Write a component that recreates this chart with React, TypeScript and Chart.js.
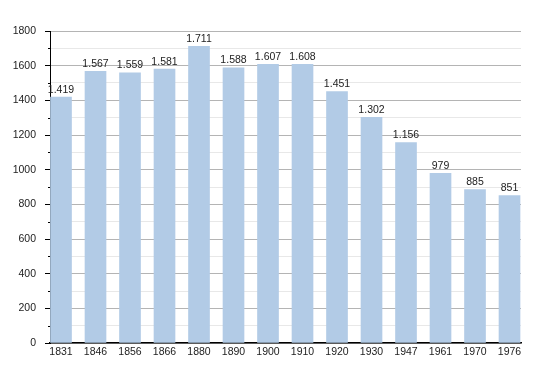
import React, { useEffect, useRef } from "react";
import { Chart, registerables } from "chart.js";

Chart.register(...registerables);

const years = ["1831", "1846", "1856", "1866", "1880", "1890", "1900", "1910", "1920", "1930", "1947", "1961", "1970", "1976"];
const population = [1419, 1567, 1559, 1581, 1711, 1588, 1607, 1608, 1451, 1302, 1156, 979, 885, 851];
const yTickStep = 100;
const yMax = 1800;

const FONT = "'Liberation Sans', Arial, sans-serif";

function fmt(v: number): string {
  if (v >= 1000) {
    return Math.floor(v / 1000) + "." + String(v % 1000).padStart(3, "0");
  }
  return String(v);
}

const labelPlugin = {
  id: "valueLabels",
  afterDatasetsDraw(chart: any) {
    const ctx = chart.ctx;
    const meta = chart.getDatasetMeta(0);
    ctx.save();
    ctx.font = "10.5px " + FONT;
    ctx.fillStyle = "#222";
    ctx.textAlign = "center";
    ctx.textBaseline = "bottom";
    meta.data.forEach((bar: any, i: number) => {
      ctx.fillText(fmt(population[i]), bar.x, bar.y - 2);
    });
    ctx.restore();
  },
};

const minorTickPlugin = {
  id: "minorTicks",
  afterDraw(chart: any) {
    const ctx = chart.ctx;
    const y = chart.scales.y;
    const left = chart.chartArea.left;
    ctx.save();
    ctx.strokeStyle = "#000";
    ctx.lineWidth = 1;
    for (let v = yTickStep; v < yMax; v += 2 * yTickStep) {
      const py = Math.round(y.getPixelForValue(v)) + 0.5;
      ctx.beginPath();
      ctx.moveTo(left - 2, py);
      ctx.lineTo(left, py);
      ctx.stroke();
    }
    ctx.restore();
  },
};

export default function App() {
  const ref = useRef<HTMLCanvasElement | null>(null);
  useEffect(() => {
    if (!ref.current) return;
    const chart = new Chart(ref.current, {
      type: "bar",
      data: {
        datasets: [
          {
            data: population.map((v, i) => ({ x: i, y: v })),
            backgroundColor: "#b2cbe6",
            borderWidth: 0,
            barThickness: 21,
          },
        ],
      },
      options: {
        animation: false,
        responsive: false,
        maintainAspectRatio: false,
        layout: { padding: { top: 31, right: 29, left: 0, bottom: 0 } },
        plugins: { legend: { display: false }, tooltip: { enabled: false } },
        scales: {
          x: {
            type: "linear",
            offset: false,
            min: -0.319,
            max: 13.333,
            afterBuildTicks: (scale: any) => {
              scale.ticks = years.map((_, i) => ({ value: i }));
            },
            afterFit: (scale: any) => {
              scale.height = 30;
            },
            ticks: {
              autoSkip: false,
              maxRotation: 0,
              padding: 3,
              color: "#222",
              font: { family: FONT, size: 10.5 },
              callback: (v: any) => years[v] ?? "",
            },
            grid: { display: true, color: "transparent", drawTicks: false },
            border: { display: true, color: "#000", width: 1.5 },
          },
          y: {
            type: "linear",
            min: 0,
            max: yMax,
            afterFit: (scale: any) => {
              scale.width = 50;
            },
            ticks: {
              stepSize: yTickStep,
              autoSkip: false,
              padding: 9,
              color: "#222",
              font: { family: FONT, size: 10.5 },
              callback: (v: any) => (Number(v) % 200 === 0 ? String(v) : ""),
            },
            grid: {
              color: (c: any) => (c.tick && c.tick.value % 200 === 0 ? "#b4b4b4" : "#e8e8e8"),
              tickColor: (c: any) => (c.tick && c.tick.value % 200 === 0 ? "#000" : "transparent"),
              tickLength: 5,
              drawTicks: true,
            },
            border: { display: true, color: "#000", width: 1 },
          },
        },
      },
      plugins: [labelPlugin, minorTickPlugin],
    } as any);
    return () => chart.destroy();
  }, []);
  return (
    <div style={{ position: "fixed", left: 0, top: 0, width: 550, height: 373, background: "#fff" }}>
      <canvas ref={ref} width={550} height={373} style={{ width: 550, height: 373 }} />
    </div>
  );
}
